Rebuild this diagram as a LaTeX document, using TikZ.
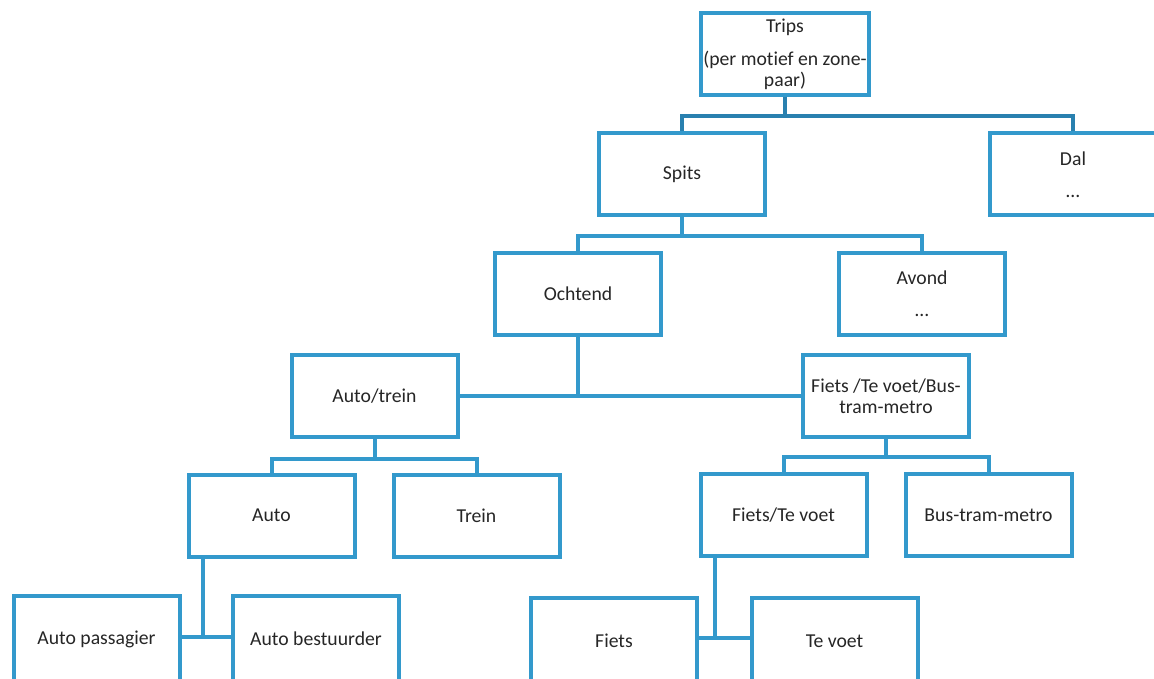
\documentclass[tikz,border=0pt]{standalone}
\usepackage{fontspec}
\setmainfont{Carlito}[Ligatures=NoCommon]
\definecolor{boxblue}{RGB}{51,153,204}
\definecolor{linkdark}{RGB}{41,128,175}
\definecolor{textgrey}{RGB}{38,38,38}

\begin{document}
\begin{tikzpicture}[
          x=1pt, y=-1pt,
          box/.style={rectangle, draw=boxblue, line width=4pt, fill=white,
            minimum width=166pt, minimum height=82pt, inner sep=2pt,
            align=center, text=textgrey, font=\fontsize{19.7}{21}\selectfont},
          lowbox/.style={box, minimum height=86pt},
          link/.style={draw=boxblue, line width=4pt},
          toplink/.style={draw=linkdark, line width=4pt}
        ]
          \useasboundingbox (0,0) rectangle (1154,679);
          \clip (0,0) rectangle (1154,679);

          % root and day periods
          \node[box] (trips) at (785,54) {Trips\\[12pt](per motief en zone-\\paar)};
          \node[box] (spits) at (682,174.5) {Spits};
          \node[box] (dal) at (1073,174.5) {Dal\\[11pt]…};

          % peak hours
          \node[box] (ochtend) at (578,294) {Ochtend};
          \node[box] (avond) at (922,294) {Avond\\[11pt]…};

          % mode groups
          \node[box] (autotrein) at (374.5,396) {Auto/trein};
          \node[box] (fbtm) at (886,396) {Fiets /Te voet/Bus-\\tram-metro};

          % modes
          \node[box] (auto) at (271.5,515.5) {Auto};
          \node[box] (trein) at (476.5,516) {Trein};
          \node[box] (fietsvoet) at (783.5,515) {Fiets/Te voet};
          \node[box] (btm) at (988.5,515) {Bus-tram-metro};

          % sub modes
          \node[lowbox] (autopas) at (96.5,639) {Auto passagier};
          \node[lowbox] (autobest) at (316,639) {Auto bestuurder};
          \node[lowbox] (fiets) at (614,641) {Fiets};
          \node[lowbox] (tevoet) at (834.5,641) {Te voet};

          % junction points
          \coordinate (autojoin) at (203,637);
          \coordinate (fietsjoin) at (715,638);

          % tree links
          \draw[toplink] (trips.south) -- ++(0,19) -| (spits.north);
          \draw[toplink] (trips.south) -- ++(0,19) -| (dal.north);
          \draw[link] (spits.south) -- ++(0,18.5) -| (ochtend.north);
          \draw[link] (spits.south) -- ++(0,18.5) -| (avond.north);
          \draw[link] (ochtend.south) |- (autotrein.east);
          \draw[link] (ochtend.south) |- (fbtm.west);
          \draw[link] (autotrein.south) -- ++(0,19.5) -| (auto.north);
          \draw[link] (autotrein.south) -- ++(0,19.5) -| (trein.north);
          \draw[link] (fbtm.south) -- ++(0,18) -| (fietsvoet.north);
          \draw[link] (fbtm.south) -- ++(0,18) -| (btm.north);

          % side links to the lowest level
          \draw[link] (autojoin |- auto.south) -- (autojoin);
          \draw[link] (autopas.east |- autojoin) -- (autojoin -| autobest.west);
          \draw[link] (fietsjoin |- fietsvoet.south) -- (fietsjoin);
          \draw[link] (fiets.east |- fietsjoin) -- (fietsjoin -| tevoet.west);
\end{tikzpicture}
\end{document}
